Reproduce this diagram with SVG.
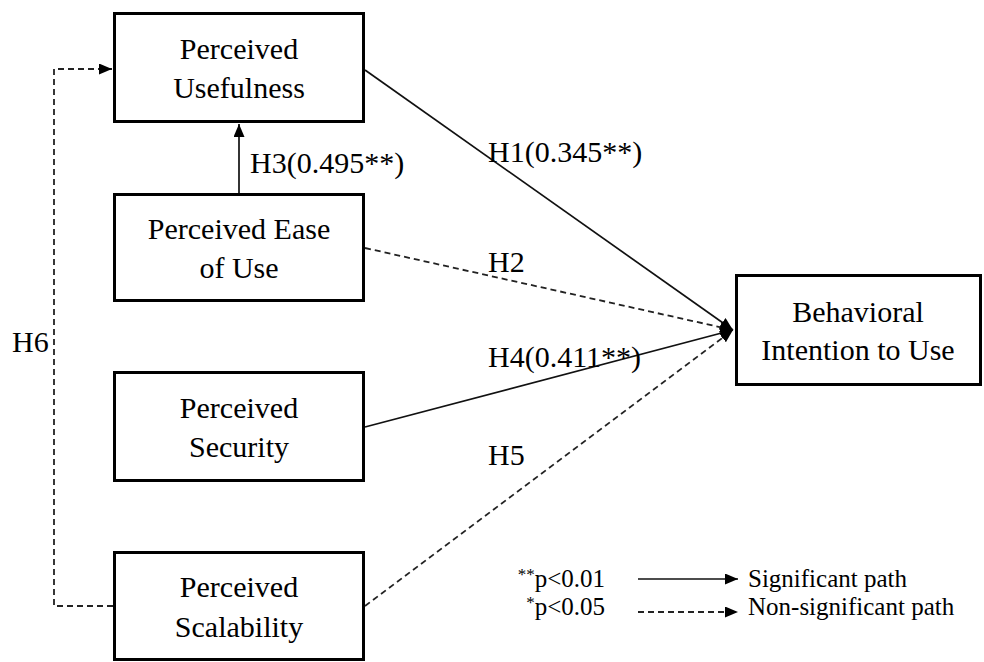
<svg xmlns="http://www.w3.org/2000/svg" width="984" height="662" viewBox="0 0 984 662">
<style>
  .box { fill: #fff; stroke: #000; stroke-width: 3; }
  .t { font-family: "Liberation Serif", "Times New Roman", serif; font-size: 30px; fill: #000; }
  .c { text-anchor: middle; }
  .lg { font-family: "Liberation Serif", "Times New Roman", serif; font-size: 25px; fill: #000; }
  .solid { fill: none; stroke: #111; stroke-width: 1.7; }
  .dash { fill: none; stroke: #222; stroke-width: 1.8; stroke-dasharray: 6 4; }
</style>
<defs>
  <marker id="ah" markerUnits="userSpaceOnUse" markerWidth="14" markerHeight="12" refX="13" refY="5.5" orient="auto">
    <path d="M0,0 L13,5.5 L0,11 z" fill="#000"/>
  </marker>
</defs>
<g id="connectors">
  <line class="solid" x1="365" y1="70" x2="733" y2="330" marker-end="url(#ah)"/>
  <line class="dash" x1="365" y1="248" x2="733" y2="330" marker-end="url(#ah)"/>
  <line class="solid" x1="365" y1="427" x2="733" y2="330" marker-end="url(#ah)"/>
  <line class="dash" x1="365" y1="606" x2="733" y2="330" marker-end="url(#ah)"/>
  <line class="solid" x1="239" y1="193" x2="239" y2="124" marker-end="url(#ah)"/>
  <path class="dash" d="M113,606 H54 V69 H112" marker-end="url(#ah)"/>
  <text class="t" x="488" y="162">H1(0.345**)</text>
  <text class="t" x="488" y="272">H2</text>
  <text class="t" x="250" y="173">H3(0.495**)</text>
  <text class="t" x="488" y="367">H4(0.411**)</text>
  <text class="t" x="488" y="465">H5</text>
  <text class="t" x="12" y="352">H6</text>
</g>
<g id="pu">
  <rect class="box" x="114.5" y="13.5" width="249" height="108"/>
  <text class="t c" x="239" y="59">Perceived</text>
  <text class="t c" x="239" y="98">Usefulness</text>
</g>
<g id="peou">
  <rect class="box" x="114.5" y="194.5" width="249" height="106"/>
  <text class="t c" x="239" y="239">Perceived Ease</text>
  <text class="t c" x="239" y="278">of Use</text>
</g>
<g id="ps">
  <rect class="box" x="114.5" y="372.5" width="249" height="108"/>
  <text class="t c" x="239" y="418">Perceived</text>
  <text class="t c" x="239" y="457">Security</text>
</g>
<g id="psc">
  <rect class="box" x="114.5" y="552.5" width="249" height="107"/>
  <text class="t c" x="239" y="597">Perceived</text>
  <text class="t c" x="239" y="637">Scalability</text>
</g>
<g id="bi">
  <rect class="box" x="736.5" y="275.5" width="244" height="109"/>
  <text class="t c" x="858" y="322">Behavioral</text>
  <text class="t c" x="858" y="360">Intention to Use</text>
</g>
<g id="legend">
  <text class="lg" x="605" y="587" text-anchor="end"><tspan font-size="17" dy="-7">**</tspan><tspan dy="7">p&lt;0.01</tspan></text>
  <text class="lg" x="605" y="615" text-anchor="end"><tspan font-size="17" dy="-7">*</tspan><tspan dy="7">p&lt;0.05</tspan></text>
  <line class="solid" x1="638" y1="579" x2="738" y2="579" marker-end="url(#ah)"/>
  <line class="dash" x1="638" y1="612" x2="738" y2="612" marker-end="url(#ah)"/>
  <text class="lg" x="748" y="587">Significant path</text>
  <text class="lg" x="748" y="615">Non-significant path</text>
</g>
</svg>
